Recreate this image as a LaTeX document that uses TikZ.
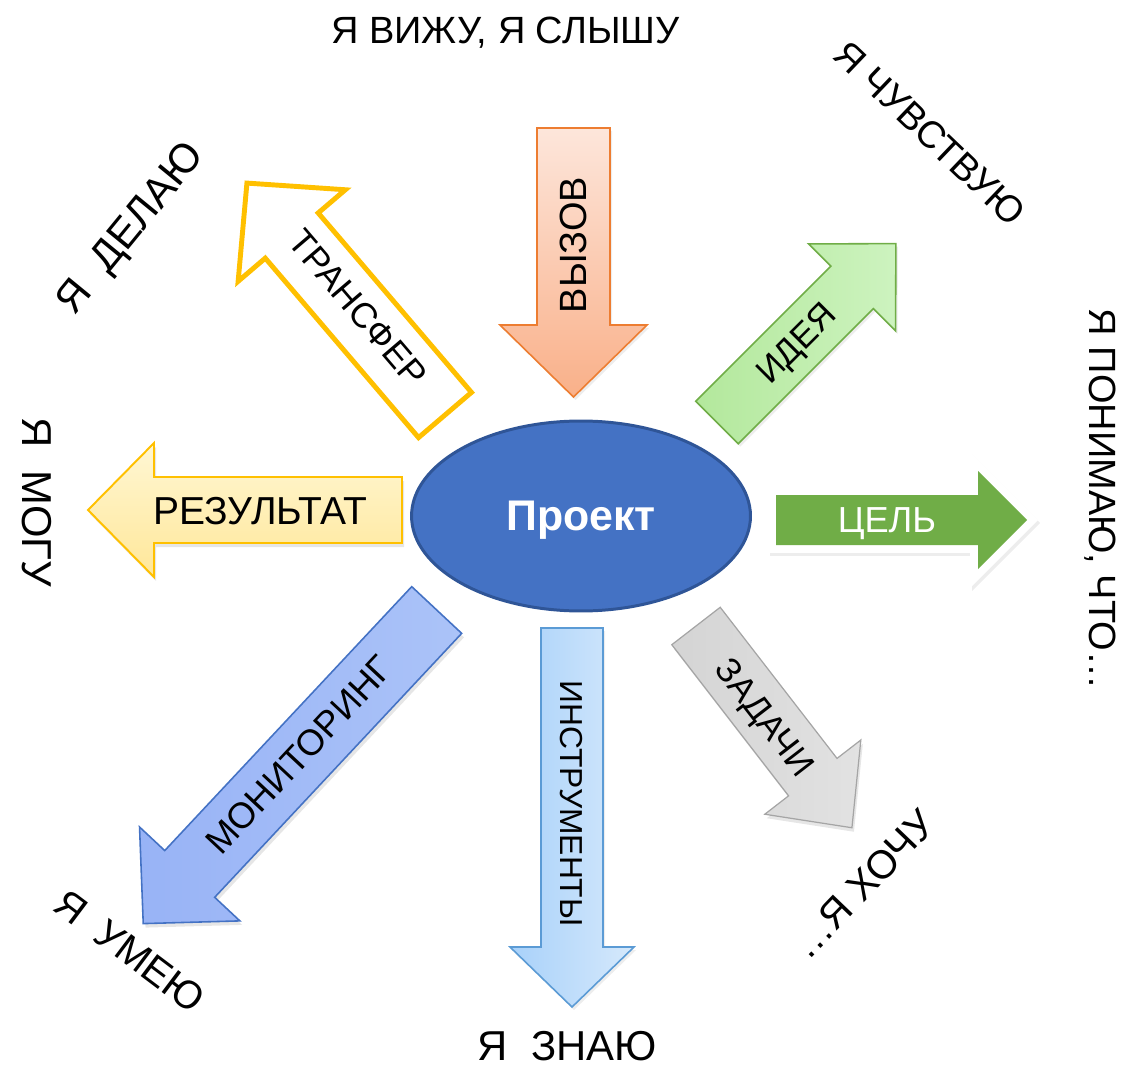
\documentclass[tikz,border=0pt]{standalone}
\usepackage{fontspec}
\setmainfont{Liberation Sans}
\usetikzlibrary{shapes.geometric}
\definecolor{ellfill}{HTML}{4472C4}
\definecolor{elldraw}{HTML}{2F5597}
\definecolor{orA}{HTML}{FDE6DB}
\definecolor{orB}{HTML}{F9B089}
\definecolor{orD}{HTML}{ED7D31}
\definecolor{yeA}{HTML}{FFF7D4}
\definecolor{yeB}{HTML}{FFE799}
\definecolor{gold}{HTML}{FFC000}
\definecolor{grA}{HTML}{B3E89C}
\definecolor{grB}{HTML}{CDF3BF}
\definecolor{grD}{HTML}{70AD47}
\definecolor{celg}{HTML}{70AD47}
\definecolor{gyA}{HTML}{D4D4D4}
\definecolor{gyB}{HTML}{E2E2E2}
\definecolor{gyD}{HTML}{A5A5A5}
\definecolor{blA}{HTML}{A8D1FA}
\definecolor{blB}{HTML}{D6E9FB}
\definecolor{blD}{HTML}{5B9BD5}
\definecolor{peA}{HTML}{98B3F6}
\definecolor{peB}{HTML}{ABC3F8}
\definecolor{peD}{HTML}{4472C4}
\definecolor{shad}{HTML}{E6E6E6}
\definecolor{shadl}{HTML}{EDEDED}
\newcommand{\myfs}[1]{\fontsize{#1}{#1}\selectfont}
% #1 options, #2 tail centre, #3 angle, #4 length, #5 shaft half width, #6 head half width, #7 head length
\newcommand{\blockarrow}[7]{%
  \begin{scope}[shift={#2},rotate=#3]
    \path[#1] (0,-#5) -- ({#4-#7},-#5) -- ({#4-#7},-#6) -- (#4,0) -- ({#4-#7},#6) -- ({#4-#7},#5) -- (0,#5) -- cycle;
  \end{scope}}
\begin{document}
\begin{tikzpicture}[x=0.02cm,y=-0.02cm,line join=miter,
  lbl/.style={inner sep=0pt,text depth=0pt,anchor=center},
  fa/.style={font=\myfs{20.6pt}},
  fb/.style={font=\myfs{21.6pt}},
  fc/.style={font=\myfs{23.8pt}},
  fd/.style={font=\myfs{22.7pt}},
  fe/.style={font=\myfs{19.8pt}},
  ff/.style={font=\myfs{20.2pt}},
  fg/.style={font=\myfs{18.1pt}},
  fh/.style={font=\myfs{22.2pt}}]
\useasboundingbox (0,0) rectangle (1124,1070);

% ---- shadows
\blockarrow{fill=shadl}{(575.5,131)}{-90}{269}{36.5}{73.5}{72}
\blockarrow{fill=shad}{(404,514)}{180}{314}{33}{67}{66}
\blockarrow{fill=shadl}{(719,425.5)}{45}{253}{30}{61.5}{62}
\blockarrow{fill=shadl,draw=shadl,line width=9pt}{(778,523)}{0}{251}{25}{49}{49}
\blockarrow{fill=shad}{(698,630)}{-52.3}{255}{30.6}{60.7}{64}
\blockarrow{fill=shadl}{(574,631)}{-90}{379}{31}{62}{60}
\blockarrow{fill=shad}{(439,614)}{-133.1}{429.5}{34.2}{68.7}{68}

% ---- arrows
\blockarrow{top color=orA,bottom color=orB,draw=orD,line width=0.9pt}{(573.5,128)}{-90}{269}{36.5}{73.5}{72}
\blockarrow{top color=yeA,bottom color=yeB,draw=gold,line width=1.1pt}{(402,510)}{180}{314}{33}{67}{66}
\blockarrow{fill=white,draw=gold,line width=2.8pt}{(445,415)}{130.5}{305}{34.8}{70.5}{69}
\blockarrow{left color=grA,right color=grB,draw=grD,line width=0.9pt}{(717,422.5)}{45}{253}{30}{61.5}{62}
\blockarrow{fill=white,draw=white,line width=9pt}{(776,520)}{0}{251}{25}{49}{49}
\blockarrow{fill=celg}{(776,520)}{0}{251}{25}{49}{49}
\blockarrow{left color=gyA,right color=gyB,draw=gyD,line width=0.7pt}{(696,626)}{-52.3}{255}{30.6}{60.7}{64}
\blockarrow{left color=blA,right color=blB,draw=blD,line width=0.9pt}{(572,628)}{-90}{379}{31}{62}{60}
\blockarrow{left color=peA,right color=peB,draw=peD,line width=0.9pt}{(436.7,610)}{-133.1}{429.5}{34.2}{68.7}{68}

% ---- centre
\node[ellipse,draw=elldraw,line width=1.7pt,fill=ellfill,minimum width=6.78cm,minimum height=3.8cm,inner sep=0pt] (proj) at (581,516) {};
\node[lbl,text=white,font=\bfseries\myfs{24.4pt}] (projtext) at (proj.center) {Проект};

% ---- arrow labels
\node[lbl,fb,rotate=90] (vyzov) at (573.5,245) {ВЫЗОВ};
\node[lbl,fh] (rez) at (260.5,511) {РЕЗУЛЬТАТ};
\node[lbl,ff,rotate=-49.5] (trans) at (358,308) {ТРАНСФЕР};
\node[lbl,fe,rotate=45] (ideya) at (796,343) {ИДЕЯ};
\node[lbl,fa,text=white] (cel) at (887,520) {ЦЕЛЬ};
\node[lbl,fe,rotate=-52.3] (zad) at (765,717) {ЗАДАЧИ};
\node[lbl,fg,rotate=-90] (instr) at (572,803.5) {ИНСТРУМЕНТЫ};
\node[lbl,fa,rotate=46.9] (mon) at (299,755) {МОНИТОРИНГ};

% ---- outer texts
\node[lbl,fb] (o1) at (505.5,30.5) {Я ВИЖУ, Я СЛЫШУ};
\node[lbl,fb,rotate=-43.7] (o2) at (930,133) {Я ЧУВСТВУЮ};
\node[lbl,fb,rotate=-90] (o3) at (1103,499) {Я ПОНИМАЮ, ЧТО…};
\node[lbl,fd,rotate=46.2] (o4) at (863,884) {…Я ХОЧУ};
\node[lbl,fc] (o5) at (567.5,1046) {Я\ \ ЗНАЮ};
\node[lbl,fd,rotate=-37] (o6) at (130,951) {Я\ \ УМЕЮ};
\node[lbl,fc,rotate=-90] (o7) at (37.5,502) {Я\ \ МОГУ};
\node[lbl,fc,rotate=50.7] (o8) at (128.7,226.7) {Я\ \ ДЕЛАЮ};
\end{tikzpicture}
\end{document}
